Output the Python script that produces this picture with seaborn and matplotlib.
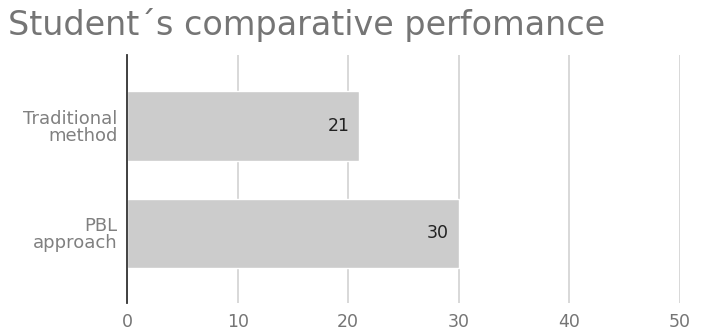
import matplotlib
matplotlib.use("Agg")
import matplotlib.pyplot as plt
import pandas as pd
import seaborn as sns

# Data
categories = ["Traditional\nmethod", "PBL\napproach"]
scores = [21, 30]
x_ticks = [0, 10, 20, 30, 40, 50]

df = pd.DataFrame({"group": categories, "score": scores})

sns.set_style("white")
plt.rcParams['font.family'] = ['DejaVu Sans']

fig = plt.figure(figsize=(7.02, 3.34), dpi=100)
ax = fig.add_axes([0.181, 0.093, 0.7877, 0.742])

sns.barplot(data=df, y="group", x="score", orient="h", color="#cccccc",
            saturation=1, width=0.645, ax=ax, zorder=3)

ax.set_xlim(0, 50)
ax.set_ylim(1.65, -0.66)
ax.set_xticks(x_ticks)
ax.xaxis.grid(True, color="#d6d6d6", linewidth=1.3, zorder=0)
ax.set_axisbelow(True)
for s in ["top", "right", "bottom"]:
    ax.spines[s].set_visible(False)
ax.spines["left"].set_color("#333333")
ax.spines["left"].set_linewidth(1.3)
ax.spines["left"].set_zorder(5)

ax.tick_params(axis="x", length=0, pad=7, labelsize=12.5, labelcolor="#757575")
ax.tick_params(axis="y", length=0, pad=7, labelsize=13, labelcolor="#808080")
for lbl in ax.get_yticklabels():
    lbl.set_horizontalalignment("right")
    lbl.set_multialignment("right")
    lbl.set_linespacing(0.9)
ax.set_xlabel("")
ax.set_ylabel("")

for i, v in enumerate(scores):
    ax.annotate(str(v), xy=(v, i), xytext=(-7, 0), textcoords="offset points",
                ha="right", va="center", fontsize=12.5, color="#222222", zorder=6)

fig.text(0.012, 0.975, "Student\u00b4s comparative perfomance", ha="left", va="top",
         fontsize=24, color="#757575")

fig.savefig("out.png", dpi=100)
